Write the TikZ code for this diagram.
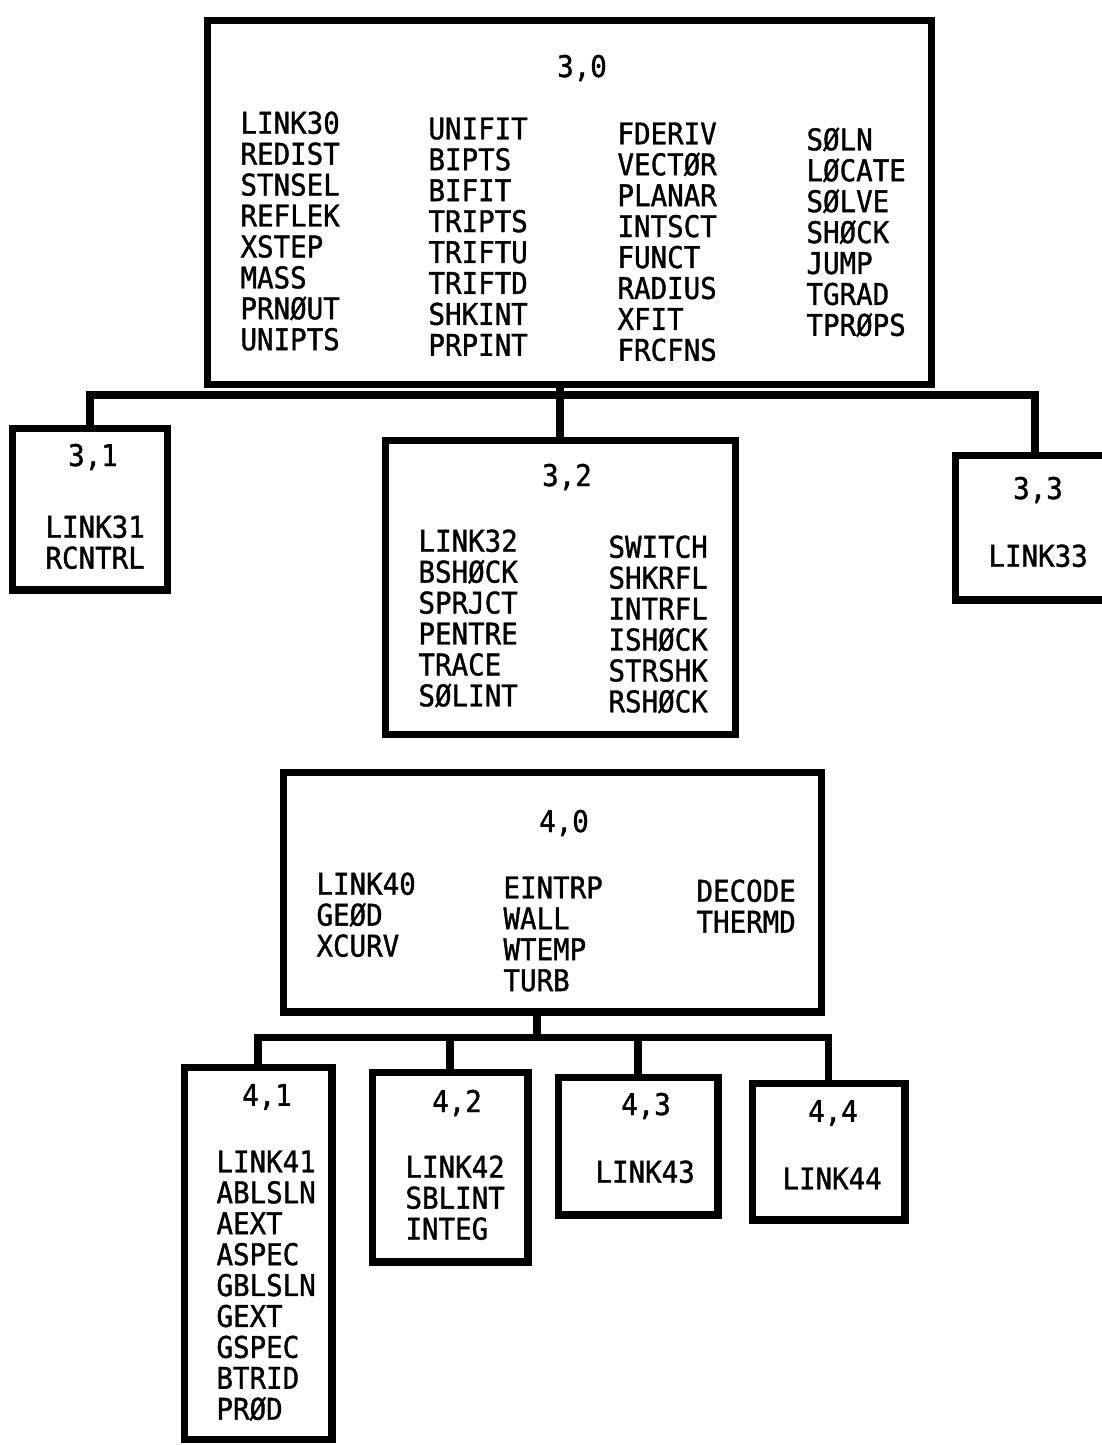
\documentclass[tikz,border=0pt]{standalone}
\usepackage{fontspec}
\setmainfont[FakeStretch=0.92,FakeBold=1.2]{DejaVu Sans Mono}
\tikzset{every picture/.style={line width=4pt,x=0.02cm,y=-0.02cm},box/.style={draw,inner sep=0pt},tag/.style={inner sep=0pt,font=\fontsize{17}{17.6}\selectfont},col/.style={tag,align=left,anchor=north west}}
\begin{document}
\begin{tikzpicture}
\useasboundingbox (0,0) rectangle (1102,1445);
\node (b30) [box, minimum width=14.5cm, minimum height=7.3cm] at (569.5,202.5) {};
\node (b31) [box, minimum width=3.12cm, minimum height=3.24cm] at (90,509) {};
\node (b32) [box, minimum width=7.02cm, minimum height=5.9cm] at (560.5,587.5) {};
\node (b33) [box, minimum width=3.2cm, minimum height=2.9cm] at (1035,527.5) {};
\node (b40) [box, minimum width=10.78cm, minimum height=4.8cm] at (552.5,892) {};
\node (b41) [box, minimum width=2.96cm, minimum height=7.46cm] at (258,1253.5) {};
\node (b42) [box, minimum width=3.12cm, minimum height=3.8cm] at (450,1167) {};
\node (b43) [box, minimum width=3.2cm, minimum height=2.76cm] at (638,1146) {};
\node (b44) [box, minimum width=3.06cm, minimum height=2.74cm] at (828.5,1151.5) {};
\node (t30) [tag] at (582,68) {3,0};
\node (t31) [tag] at (93,457) {3,1};
\node (t32) [tag] at (567,477) {3,2};
\node (t33) [tag] at (1038,490) {3,3};
\node (t40) [tag] at (564,823) {4,0};
\node (t41) [tag] at (267,1097) {4,1};
\node (t42) [tag] at (457,1103) {4,2};
\node (t43) [tag] at (646,1106) {4,3};
\node (t44) [tag] at (833,1113) {4,4};
\node (c30a) [col] at (237,108) {LINK30\\REDIST\\STNSEL\\REFLEK\\XSTEP\\MASS\\PRNØUT\\UNIPTS};
\node (c30b) [col] at (425,114) {UNIFIT\\BIPTS\\BIFIT\\TRIPTS\\TRIFTU\\TRIFTD\\SHKINT\\PRPINT};
\node (c30c) [col] at (614,119) {FDERIV\\VECTØR\\PLANAR\\INTSCT\\FUNCT\\RADIUS\\XFIT\\FRCFNS};
\node (c30d) [col] at (803,124) {SØLN\\LØCATE\\SØLVE\\SHØCK\\JUMP\\TGRAD\\TPRØPS};
\node (c31) [col] at (42,512) {LINK31\\RCNTRL};
\node (c32a) [col] at (415,526) {LINK32\\BSHØCK\\SPRJCT\\PENTRE\\TRACE\\SØLINT};
\node (c32b) [col] at (605,532) {SWITCH\\SHKRFL\\INTRFL\\ISHØCK\\STRSHK\\RSHØCK};
\node (c33) [col] at (985,541) {LINK33};
\node (c40a) [col] at (313,869) {LINK40\\GEØD\\XCURV};
\node (c40b) [col] at (500,873) {EINTRP\\WALL\\WTEMP\\TURB};
\node (c40c) [col] at (693,876) {DECODE\\THERMD};
\node (c41) [col] at (213,1147) {LINK41\\ABLSLN\\AEXT\\ASPEC\\GBLSLN\\GEXT\\GSPEC\\BTRID\\PRØD};
\node (c42) [col] at (402,1152) {LINK42\\SBLINT\\INTEG};
\node (c43) [col] at (592,1157) {LINK43};
\node (c44) [col] at (779,1164) {LINK44};
\coordinate (j3) at (560,395);
\coordinate (j4) at (537,1037);
\draw[-] (b31.north) |- (j3) -| (b33.north);
\draw[-] (b30.south -| j3) -- (j3);
\draw[-] (j3) -- (b32.north -| j3);
\draw[-] (b41.north) |- (j4) -| (b44.north);
\draw[-] (b40.south -| j4) -- (j4);
\draw[-] (j4 -| b42.north) -- (b42.north);
\draw[-] (j4 -| b43.north) -- (b43.north);
\end{tikzpicture}
\end{document}
